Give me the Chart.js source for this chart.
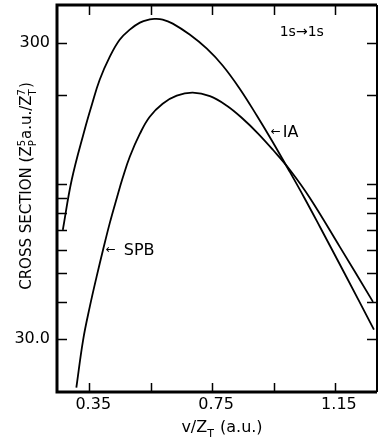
<!DOCTYPE html>
<html>
<head>
<meta charset="utf-8">
<script src="https://cdn.jsdelivr.net/npm/chart.js@4.4.1/dist/chart.umd.min.js"></script>
<style>
  html, body { margin: 0; padding: 0; background: #fff; }
  #wrap { width: 379px; height: 441px; }
</style>
</head>
<body>
<div id="wrap"><canvas id="chart" width="379" height="441"></canvas></div>
<script>
// curves: x = v/Z_T (a.u.), y = cross section
const iaX = [0.264, 0.293, 0.335, 0.358, 0.384, 0.417, 0.449, 0.482, 0.515, 0.547, 0.563, 0.589, 0.622, 0.677, 0.733, 0.785, 0.840, 0.896, 0.945, 1.003, 1.052, 1.101, 1.182, 1.277];
const iaY = [70.2, 103.6, 152.9, 185.0, 225.5, 269.7, 307.8, 332.7, 351.4, 360.3, 361.6, 359.8, 348.7, 320.2, 287.0, 251.4, 210.3, 170.4, 140.3, 110.2, 89.4, 71.9, 49.9, 32.3];

const spbX = [0.308, 0.330, 0.352, 0.374, 0.395, 0.417, 0.440, 0.459, 0.482, 0.515, 0.547, 0.589, 0.635, 0.687, 0.743, 0.798, 0.850, 0.899, 0.948, 1.003, 1.068, 1.166, 1.274];
const spbY = [20.6, 29.8, 38.7, 48.8, 60.1, 74.1, 90.1, 105.2, 123.9, 148.2, 169.1, 187.1, 199.1, 203.8, 198.4, 184.2, 166.5, 148.7, 130.8, 112.0, 90.1, 61.5, 40.1];

const xTicks = [0.35, 0.55, 0.75, 0.95, 1.15];
const xLabels = ['0.35', '', '0.75', '', '1.15'];
const yTicks = [30, 40, 50, 60, 70, 80, 90, 100, 200, 300];
const yLabels = ['30.0', '', '', '', '', '', '', '', '', '300'];

const FONT = '"DejaVu Sans", sans-serif';

const toPoints = (xs, ys) => xs.map((x, i) => ({ x: x, y: ys[i] }));

// draw a run of text with stacked super/subscripts, centred on (cx, baseline)
function drawRich(ctx, parts, cx, baseline, size) {
  const small = Math.round(size * 0.68);
  const widthOf = p => {
    if (p.text !== undefined) {
      ctx.font = size + 'px ' + FONT;
      return ctx.measureText(p.text).width;
    }
    ctx.font = small + 'px ' + FONT;
    return Math.max(ctx.measureText(p.sup || '').width, ctx.measureText(p.sub || '').width) + 1;
  };
  const total = parts.reduce((s, p) => s + widthOf(p), 0);
  let x = cx - total / 2;
  ctx.textAlign = 'left';
  ctx.textBaseline = 'alphabetic';
  parts.forEach(p => {
    const w = widthOf(p);
    if (p.text !== undefined) {
      ctx.font = size + 'px ' + FONT;
      ctx.fillText(p.text, x, baseline);
    } else {
      ctx.font = small + 'px ' + FONT;
      if (p.sup) ctx.fillText(p.sup, x, baseline - size * 0.42);
      if (p.sub) ctx.fillText(p.sub, x, baseline + size * 0.3);
    }
    x += w;
  });
}

const framePlugin = {
  id: 'frame',
  afterDraw(chart) {
    const { ctx, chartArea: a, scales } = chart;
    const xs = scales.x, ys = scales.y;
    ctx.save();
    ctx.strokeStyle = '#000';
    ctx.fillStyle = '#000';

    // inward ticks on all four sides
    ctx.lineWidth = 1.5;
    ctx.beginPath();
    xTicks.forEach(v => {
      const px = Math.round(xs.getPixelForValue(v)) + 0.5;
      ctx.moveTo(px, a.bottom); ctx.lineTo(px, a.bottom - 9);
      ctx.moveTo(px, a.top); ctx.lineTo(px, a.top + 10);
    });
    yTicks.forEach(v => {
      const py = Math.round(ys.getPixelForValue(v)) + 0.5;
      ctx.moveTo(a.left, py); ctx.lineTo(a.left + 10, py);
      ctx.moveTo(a.right, py); ctx.lineTo(a.right - 10, py);
    });
    ctx.stroke();

    // frame
    ctx.lineWidth = 3;
    ctx.beginPath();
    ctx.moveTo(a.right, a.top); ctx.lineTo(a.left, a.top);
    ctx.lineTo(a.left, a.bottom); ctx.lineTo(a.right, a.bottom);
    ctx.stroke();
    ctx.lineWidth = 2;
    ctx.beginPath();
    ctx.moveTo(a.right, a.top); ctx.lineTo(a.right, a.bottom);
    ctx.stroke();

    // curve labels
    const lx = v => xs.getPixelForValue(v);
    const ly = v => ys.getPixelForValue(v);
    ctx.textBaseline = 'middle';
    ctx.textAlign = 'center';
    ctx.font = '14px ' + FONT;
    ctx.fillText('1s\u21921s', lx(1.042), ly(325));

    ctx.textAlign = 'left';
    ctx.font = '12px ' + FONT;
    ctx.fillText('\u2190', lx(0.9445) - 1, ly(150.5));
    ctx.font = '16px ' + FONT;
    ctx.fillText('IA', lx(0.9445) + 11, ly(150.5) + 1);

    ctx.font = '12px ' + FONT;
    ctx.fillText('\u2190', lx(0.407) - 1, ly(60.1));
    ctx.font = '16px ' + FONT;
    ctx.fillText('SPB', lx(0.407) + 17, ly(60.1) + 1);

    // axis titles
    drawRich(ctx, [{ text: 'v/Z' }, { sub: 'T' }, { text: ' (a.u.)' }], 222, 432, 16);

    ctx.translate(25, 186);
    ctx.rotate(-Math.PI / 2);
    drawRich(ctx, [
      { text: 'CROSS SECTION (Z' }, { sup: '5', sub: 'P' },
      { text: 'a.u./Z' }, { sup: '7', sub: 'T' }, { text: ')' }
    ], 0, 6, 15);
    ctx.restore();
  }
};

new Chart(document.getElementById('chart'), {
  type: 'line',
  data: {
    datasets: [
      { label: 'IA', data: toPoints(iaX, iaY) },
      { label: 'SPB', data: toPoints(spbX, spbY) }
    ]
  },
  options: {
    responsive: false,
    devicePixelRatio: 1,
    animation: false,
    layout: { padding: { top: 5, right: 2, left: 0, bottom: 0 } },
    elements: {
      line: { borderColor: '#000', borderWidth: 1.8, tension: 0.4, fill: false },
      point: { radius: 0 }
    },
    plugins: { legend: { display: false }, tooltip: { enabled: false } },
    scales: {
      x: {
        type: 'linear',
        min: 0.245,
        max: 1.287,
        grid: { display: false, drawTicks: false },
        border: { display: false },
        afterBuildTicks: s => { s.ticks = xTicks.map(v => ({ value: v })); },
        afterFit: s => { s.height = 49; s.paddingLeft = 0; s.paddingRight = 0; },
        ticks: {
          padding: 3,
          labelOffset: 4,
          autoSkip: false,
          maxRotation: 0,
          color: '#000',
          font: { family: FONT, size: 16 },
          callback: v => xLabels[xTicks.indexOf(v)] || ''
        }
      },
      y: {
        type: 'logarithmic',
        min: 19.9,
        max: 403,
        grid: { display: false, drawTicks: false },
        border: { display: false },
        afterBuildTicks: s => { s.ticks = yTicks.map(v => ({ value: v })); },
        afterFit: s => { s.width = 57; s.paddingTop = 0; s.paddingBottom = 0; },
        ticks: {
          padding: 7,
          autoSkip: false,
          color: '#000',
          font: { family: FONT, size: 16 },
          callback: v => yLabels[yTicks.indexOf(v)] || ''
        }
      }
    }
  },
  plugins: [framePlugin]
});
</script>
</body>
</html>
